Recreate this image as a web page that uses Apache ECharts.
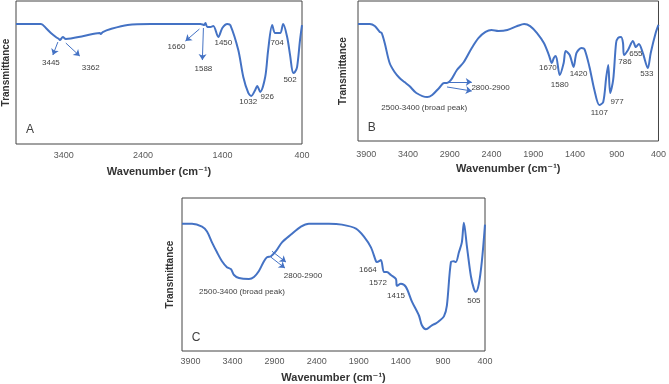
<!DOCTYPE html>
<html>
<head>
<meta charset="utf-8">
<script src="https://cdn.jsdelivr.net/npm/echarts@6/dist/echarts.min.js"></script>
<style>
  html, body { margin: 0; padding: 0; background: #fff; }
  #chart { width: 669px; height: 384px; }
</style>
</head>
<body>
<div id="chart"></div>
<script>
  // 光谱数据（波数 cm-1 / 透过率，任意单位）
  const wnA = [4000, 3686, 3624, 3561, 3498, 3460, 3448, 3410, 3373, 3147, 2946, 2934, 2908, 2808, 2595, 2306, 1679, 1629, 1616, 1591, 1553, 1516, 1453, 1403, 1340, 1302, 1202, 1139, 1076, 1039, 989, 964, 926, 863, 826, 775, 738, 675, 637, 587, 550, 512, 490, 462, 425, 400];
  const tA = [83.9, 83.9, 81.1, 77.6, 74.8, 73.4, 72.7, 74.8, 73.4, 75.5, 77.6, 76.9, 78.3, 80.4, 83.2, 83.9, 83.9, 83.2, 84.6, 81.8, 81.8, 82.5, 74.8, 81.1, 83.9, 83.2, 65.7, 46.9, 35.7, 33.6, 37.8, 40.6, 36.4, 46.9, 65.7, 83.2, 77.6, 77.6, 83.9, 74.8, 62.2, 49.7, 50.3, 53.8, 72.7, 83.2];

  const wnB = [4000, 3858, 3799, 3739, 3716, 3680, 3621, 3562, 3502, 3443, 3384, 3301, 3171, 3111, 3028, 2969, 2934, 2886, 2815, 2732, 2637, 2555, 2472, 2400, 2318, 2211, 2092, 2009, 1938, 1855, 1773, 1713, 1678, 1654, 1630, 1583, 1536, 1512, 1464, 1417, 1382, 1322, 1287, 1227, 1168, 1109, 1062, 1026, 1002, 979, 943, 908, 884, 848, 825, 813, 765, 706, 671, 635, 588, 528, 493, 434, 400];
  const tB = [83.6, 83.6, 82.1, 77.9, 77.1, 70.0, 55.7, 49.3, 45.0, 42.1, 39.3, 34.3, 31.4, 32.9, 37.9, 41.4, 41.4, 43.6, 50.7, 56.4, 66.4, 73.6, 77.9, 79.3, 78.6, 79.3, 82.1, 83.6, 82.1, 77.1, 70.0, 61.4, 55.7, 59.3, 60.7, 47.1, 55.7, 64.3, 61.4, 52.9, 62.9, 66.4, 65.7, 52.9, 36.4, 25.7, 27.9, 45.7, 54.3, 34.3, 43.6, 70.0, 73.6, 74.3, 70.0, 61.4, 65.0, 71.4, 67.1, 69.3, 62.9, 52.1, 62.9, 77.1, 82.9];

  const wnC = [4000, 3881, 3762, 3703, 3644, 3584, 3525, 3466, 3418, 3382, 3323, 3204, 3145, 3086, 3026, 2990, 2943, 2884, 2812, 2705, 2587, 2492, 2409, 2254, 2100, 1933, 1838, 1755, 1696, 1684, 1637, 1601, 1565, 1518, 1458, 1447, 1399, 1340, 1268, 1185, 1150, 1102, 1031, 983, 948, 888, 853, 805, 770, 746, 710, 675, 651, 615, 568, 532, 508, 473, 437, 400];
  const tC = [83.2, 83.2, 81.3, 78.1, 71.0, 64.5, 58.7, 54.8, 53.5, 49.7, 47.7, 47.1, 48.4, 52.3, 58.7, 61.3, 61.9, 65.2, 71.0, 76.1, 81.3, 83.2, 83.2, 83.2, 82.6, 80.0, 74.8, 67.7, 58.7, 58.1, 59.4, 51.6, 51.6, 49.7, 47.1, 42.6, 43.9, 41.9, 32.3, 23.2, 16.8, 14.2, 16.8, 18.1, 19.4, 22.6, 29.7, 58.1, 58.7, 58.1, 64.5, 71.0, 83.9, 68.4, 49.0, 40.6, 38.7, 43.9, 58.7, 82.6];

  // 峰标注（文字，波数，透过率）
  const peakTextA = ['3445', '3362', '1660', '1588', '1450', '704', '502', '1032', '926', 'A'];
  const peakWnA = [3561, 3059, 1980, 1641, 1390, 713, 550, 1077, 838, 3824];
  const peakTA = [56.6, 53.1, 67.8, 52.4, 70.6, 70.6, 44.8, 29.4, 32.9, 9.8];

  const peakTextB = ['1670', '1580', '1420', '1107', '977', '786', '655', '533', '2800-2900', '2500-3400 (broad peak)', 'B'];
  const peakWnB = [1725, 1583, 1358, 1109, 896, 801, 671, 540, 2412, 3206, 3834];
  const peakTB = [52.1, 40.0, 47.9, 20.0, 27.9, 56.4, 62.1, 47.9, 37.9, 23.6, 9.3];

  const peakTextC = ['1664', '1572', '1415', '505', '2800-2900', '2500-3400 (broad peak)', 'C'];
  const peakWnC = [1791, 1672, 1458, 532, 2563, 3287, 3834];
  const peakTC = [52.9, 44.5, 36.1, 32.9, 49.0, 38.7, 9.0];

  // 箭头（起点 -> 终点）
  const arrowsA = [[[3473, 71.3], [3536, 62.2]], [[3373, 70.6], [3197, 61.5]], [[1691, 80.4], [1867, 72.0]], [[1641, 81.1], [1654, 58.7]]];
  const arrowsB = [[[2934, 42.1], [2637, 42.1]], [[2934, 38.6], [2637, 35.7]]];
  const arrowsC = [[[2931, 65.2], [2765, 58.1]], [[2943, 61.3], [2777, 54.2]]];

  const blue = '#4472C4';
  const font = 'Liberation Sans, DejaVu Sans, sans-serif';

  function zip(xs, ys) {
    return xs.map((x, i) => [x, ys[i]]);
  }

  function marks(texts, wns, ts) {
    return texts.map((t, i) => ({
      coord: [wns[i], ts[i]],
      symbolSize: 0,
      label: {
        show: true,
        formatter: t,
        position: 'inside',
        color: '#404040',
        fontSize: t.length === 1 ? 12 : 8,
        fontFamily: font
      }
    }))
  }

  function arrows(list) {
    return list.map(a => [{coord: a[0]}, {coord: a[1]}])
  }

  function xAxis(idx, interval, margin, gap) {
    return {
      gridIndex: idx,
      type: 'value',
      inverse: true,
      min: 400,
      max: 4000,
      interval: interval,
      axisLine: {show: false},
      axisTick: {show: false},
      splitLine: {show: false},
      axisLabel: {
        showMaxLabel: false,
        margin: margin,
        color: '#595959',
        fontSize: 9,
        fontFamily: font,
        formatter: v => String(v)
      },
      name: 'Wavenumber (cm\u207B\u00B9)',
      nameLocation: 'middle',
      nameGap: gap,
      nameTextStyle: {fontSize: 11, fontWeight: 'bold', color: '#333', fontFamily: font}
    }
  }

  function yAxis(idx, gap) {
    return {
      gridIndex: idx,
      type: 'value',
      min: 0,
      max: 100,
      axisLine: {show: false},
      axisTick: {show: false},
      axisLabel: {show: false},
      splitLine: {show: false},
      name: 'Transmittance',
      nameLocation: 'middle',
      nameRotate: 90,
      nameGap: gap,
      nameTextStyle: {fontSize: 10, fontWeight: 'bold', color: '#333', fontFamily: font}
    }
  }

  function spectrum(idx, data, markData, arrowData) {
    return {
      type: 'line',
      xAxisIndex: idx,
      yAxisIndex: idx,
      data: data,
      showSymbol: false,
      smooth: 0.3,
      lineStyle: {color: blue, width: 2},
      silent: true,
      markPoint: {data: markData, animation: false},
      markLine: {
        silent: true,
        symbol: ['none', 'arrow'],
        symbolSize: 6,
        label: {show: false},
        lineStyle: {color: blue, width: 1, type: 'solid'},
        data: arrowData,
        animation: false
      }
    }
  }

  let myChart = echarts.init(document.getElementById('chart'))

  myChart.setOption({
    animation: false,
    grid: [
      {left: 15, top: 1, width: 287, height: 143, show: true, borderColor: '#444', borderWidth: 1},
      {left: 358, top: 1, width: 304, height: 140, show: true, borderColor: '#444', borderWidth: 1},
      {left: 182, top: 198, width: 303, height: 155, show: true, borderColor: '#444', borderWidth: 1}
    ],
    xAxis: [
      xAxis(0, 1000, 7, 22),
      xAxis(1, 500, 9, 22),
      xAxis(2, 500, 6, 21)
    ],
    yAxis: [
      yAxis(0, 5),
      yAxis(1, 10),
      yAxis(2, 7)
    ],
    series: [
      spectrum(0, zip(wnA, tA), marks(peakTextA, peakWnA, peakTA), arrows(arrowsA)),
      spectrum(1, zip(wnB, tB), marks(peakTextB, peakWnB, peakTB), arrows(arrowsB)),
      spectrum(2, zip(wnC, tC), marks(peakTextC, peakWnC, peakTC), arrows(arrowsC))
    ]
  });
</script>
</body>
</html>
